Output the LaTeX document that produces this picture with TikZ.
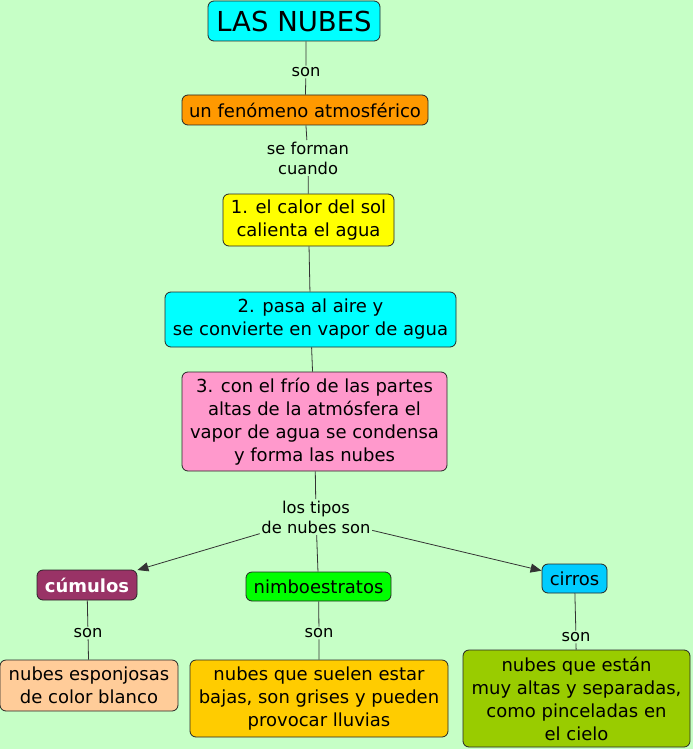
\documentclass[tikz,border=0pt]{standalone}
\usepackage{fontspec}
\setmainfont{DejaVu Sans}
\usetikzlibrary{arrows.meta}
\definecolor{bg}{HTML}{C6FFC6}
\definecolor{cyanb}{HTML}{00FFFF}
\definecolor{orangeb}{HTML}{FF9900}
\definecolor{yellowb}{HTML}{FFFF00}
\definecolor{pinkb}{HTML}{FF99CC}
\definecolor{purpleb}{HTML}{993366}
\definecolor{greenb}{HTML}{00FF00}
\definecolor{blueb}{HTML}{00CCFF}
\definecolor{peachb}{HTML}{FFCC99}
\definecolor{goldb}{HTML}{FFCC00}
\definecolor{oliveb}{HTML}{99CC00}
\tikzset{
  box/.style={draw=black!85, line width=0.8pt, rounded corners=6pt, align=center, inner sep=0pt,
    font=\fontsize{18}{23}\selectfont},
  lab/.style={fill=bg, align=center, inner sep=1.5pt, font=\fontsize{16.3}{20}\selectfont},
  conn/.style={draw=black!80, line width=0.8pt},
  arr/.style={conn, -{Triangle[length=11pt,width=9pt]}}
}
\begin{document}
\begin{tikzpicture}[x=1pt,y=1pt]
\fill[bg] (0,0) rectangle (693,-749);
\useasboundingbox (0,0) rectangle (693,-749);

\node[box, fill=cyanb, minimum width=172, minimum height=40, font=\fontsize{27.5}{32}\selectfont] (nubes) at (294,-21) {LAS NUBES};
\node[box, fill=orangeb, minimum width=246, minimum height=30] (fen) at (305,-110) {un fenómeno atmosférico};
\node[box, fill=yellowb, minimum width=171, minimum height=52] (p1) at (308.5,-220) {1. el calor del sol\\calienta el agua};
\node[box, fill=cyanb, minimum width=291, minimum height=55] (p2) at (310.5,-319.5) {2. pasa al aire y\\se convierte en vapor de agua};
\node[box, fill=pinkb, minimum width=265, minimum height=99] (p3) at (314.5,-421.5) {3. con el frío de las partes\\altas de la atmósfera el\\vapor de agua se condensa\\y forma las nubes};

\node[box, fill=purpleb, text=white, font=\fontsize{18}{23}\selectfont\bfseries, minimum width=100, minimum height=30] (cum) at (87,-585) {cúmulos};
\node[box, fill=greenb, minimum width=145, minimum height=29] (nim) at (318.5,-586.5) {nimboestratos};
\node[box, fill=blueb, minimum width=65, minimum height=29] (cir) at (574.5,-578.5) {cirros};

\node[box, fill=peachb, minimum width=178, minimum height=51] (d1) at (89,-685.5) {nubes esponjosas\\de color blanco};
\node[box, fill=goldb, minimum width=258, minimum height=77] (d2) at (319,-698.5) {nubes que suelen estar\\bajas, son grises y pueden\\provocar lluvias};
\node[box, fill=oliveb, minimum width=227, minimum height=97] (d3) at (576.5,-698.5) {nubes que están\\muy altas y separadas,\\como pinceladas en\\el cielo};

\node[lab] (l1) at (306,-72) {son};
\node[lab] (l2) at (308,-158) {se forman\\cuando};
\node[lab] (l3) at (316,-517) {los tipos\\de nubes son};
\node[lab] (l4) at (88,-633) {son};
\node[lab] (l5) at (319,-633) {son};
\node[lab] (l6) at (576,-637) {son};

\draw[conn] (nubes.south -| l1.north) -- (l1) -- (fen);
\draw[conn] (fen) -- (l2) -- (p1);
\draw[conn] (p1) -- (p2);
\draw[conn] (p2) -- (p3);
\draw[conn] (p3) -- (l3);
\draw[arr] (l3) -- (cum);
\draw[conn] (l3) -- (nim);
\draw[arr] (l3) -- (cir);
\draw[conn] (cum) -- (l4) -- (d1);
\draw[conn] (nim) -- (l5) -- (d2);
\draw[conn] (cir) -- (l6) -- (d3);
\end{tikzpicture}
\end{document}
